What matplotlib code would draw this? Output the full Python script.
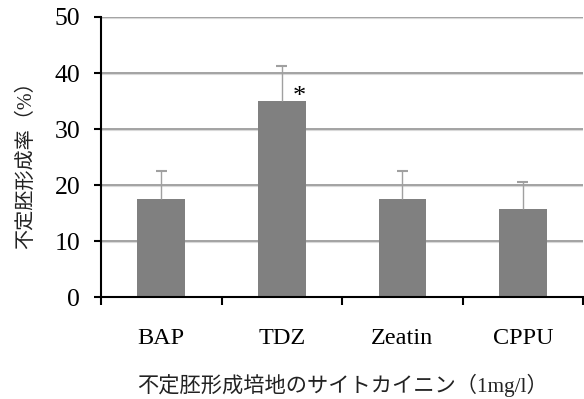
import matplotlib
matplotlib.use("Agg")
import matplotlib.pyplot as plt

# Embryo formation rate by cytokinin in the medium
categories = ["BAP", "TDZ", "Zeatin", "CPPU"]
rates = [17.5, 35.0, 17.5, 15.7]
errors = [5.0, 6.3, 5.0, 4.9]
y_ticks = [0, 10, 20, 30, 40, 50]

serif = ["Liberation Serif", "DejaVu Serif"]
mixed = ["Liberation Serif", "Noto Sans CJK JP", "DejaVu Sans"]

fig = plt.figure(figsize=(5.84, 3.99), dpi=100)
ax = fig.add_axes([0.173, 0.2556, 0.8255, 0.7018])

x = list(range(len(categories)))
for t in y_ticks[1:]:
    ax.axhline(t - 0.12, color="#d9d9d9", lw=0.8, zorder=0)
    ax.axhline(t, color="#8a8a8a", lw=1.1, zorder=0.5)

ax.bar(x, rates, width=0.395, color="#808080", zorder=2)

# upper error bars only
tops = [r + e for r, e in zip(rates, errors)]
cap = 0.045
ax.vlines(x, rates, tops, color="#a0a0a0", lw=1.0, zorder=3)
ax.hlines(tops, [i - cap for i in x], [i + cap for i in x],
          color="#a0a0a0", lw=1.5, zorder=3)

ax.text(1.146, 35.7, "*", ha="center", va="center", fontsize=19,
        family=serif, color="black")

ax.set_xlim(-0.5, 3.5)
ax.set_ylim(0, 50)
ax.set_yticks(y_ticks)
ax.set_yticklabels([str(v) for v in y_ticks], family=serif, fontsize=18.5)
ax.set_xticks([i - 0.5 for i in range(len(categories) + 1)])
ax.set_xticklabels([])
ax.set_xticks(x, minor=True)
ax.set_xticklabels(categories, minor=True, family=serif, fontsize=17.5)
ax.tick_params(axis="x", which="minor", length=0, pad=22)
ax.tick_params(axis="x", which="major", direction="out", length=6, width=1.5)
ax.tick_params(axis="y", direction="out", length=5, width=1.5, pad=10)

for side in ("top", "right"):
    ax.spines[side].set_visible(False)
for side in ("left", "bottom"):
    ax.spines[side].set_linewidth(1.5)
    ax.spines[side].set_color("black")

ax.set_ylabel("不定胚形成率（%）", family=mixed, fontsize=14.5, color="#222222")
ax.yaxis.set_label_coords(-0.135, 0.49)
ax.set_xlabel("不定胚形成培地のサイトカイニン（1mg/l）", family=mixed,
              fontsize=15.3, labelpad=18, color="#222222")

fig.savefig("out.png", dpi=100)
